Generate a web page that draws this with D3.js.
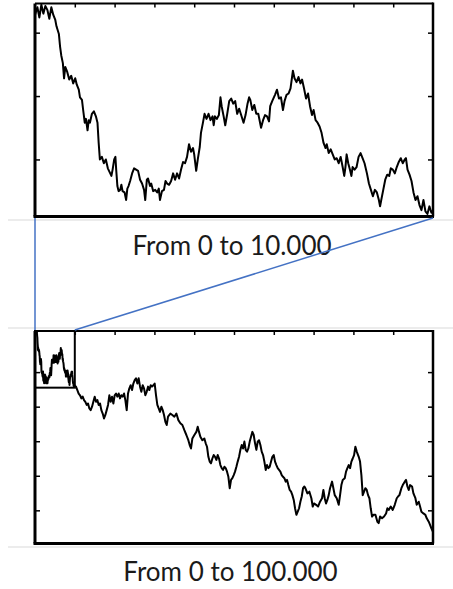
<!DOCTYPE html>
<html>
<head>
<meta charset="utf-8">
<script src="https://cdn.jsdelivr.net/npm/d3@7"></script>
<style>
body { margin: 0; background: #fff; }
</style>
</head>
<body>
<div id="container"></div>
<script>
// random walk, first 10.000 steps  [step, position]
var firstWalk = [
	[0,14],[60,20],[110,12],[160,22],[210,15],[260,21],[310,18],[360,11],[410,20],[460,14],
	[510,10],[540,5],[600,-1],[630,-11],[660,-18],[700,-24],[730,-36],[760,-27],[810,-31],[860,-37],
	[910,-34],[960,-40],[1010,-36],[1050,-41],[1100,-45],[1130,-51],[1180,-53],[1210,-61],[1250,-71],[1280,-68],
	[1320,-77],[1350,-69],[1380,-71],[1430,-64],[1480,-62],[1530,-66],[1570,-71],[1600,-87],[1630,-100],[1680,-98],
	[1730,-103],[1780,-100],[1830,-107],[1890,-111],[1920,-113],[1950,-108],[1990,-100],[2020,-98],[2040,-108],[2070,-121],
	[2100,-125],[2140,-124],[2170,-120],[2200,-125],[2250,-126],[2290,-132],[2320,-123],[2350,-121],[2390,-117],[2440,-111],
	[2490,-107],[2540,-108],[2590,-109],[2640,-116],[2690,-119],[2740,-124],[2770,-132],[2810,-116],[2840,-115],[2890,-121],
	[2920,-119],[2970,-125],[3020,-124],[3070,-126],[3110,-123],[3140,-132],[3190,-125],[3240,-124],[3280,-117],[3320,-119],
	[3370,-120],[3420,-117],[3470,-111],[3520,-116],[3570,-111],[3620,-115],[3670,-108],[3720,-102],[3770,-103],[3820,-98],
	[3870,-88],[3920,-94],[3970,-91],[4000,-96],[4050,-109],[4090,-100],[4140,-90],[4170,-79],[4220,-71],[4260,-64],
	[4310,-68],[4360,-64],[4410,-69],[4460,-66],[4490,-73],[4520,-66],[4570,-68],[4620,-65],[4660,-51],[4690,-58],
	[4740,-66],[4780,-73],[4830,-64],[4880,-54],[4930,-52],[4980,-56],[5030,-54],[5080,-64],[5130,-60],[5180,-65],
	[5240,-71],[5290,-65],[5340,-56],[5380,-51],[5410,-53],[5460,-61],[5510,-57],[5560,-64],[5610,-64],[5680,-75],
	[5730,-69],[5780,-65],[5830,-66],[5880,-70],[5910,-58],[5960,-54],[6030,-49],[6080,-45],[6130,-52],[6180,-51],
	[6230,-61],[6270,-54],[6320,-49],[6370,-48],[6420,-44],[6450,-37],[6480,-30],[6520,-36],[6570,-39],[6620,-35],
	[6670,-40],[6710,-37],[6760,-44],[6810,-52],[6860,-48],[6910,-58],[6960,-65],[7000,-61],[7050,-69],[7100,-71],
	[7150,-74],[7200,-79],[7250,-87],[7300,-91],[7330,-88],[7380,-95],[7430,-92],[7480,-96],[7530,-100],[7580,-99],
	[7630,-103],[7680,-98],[7730,-106],[7770,-113],[7800,-106],[7830,-96],[7870,-103],[7920,-109],[7950,-113],[7980,-106],
	[8030,-108],[8080,-106],[8130,-98],[8180,-95],[8230,-99],[8280,-103],[8340,-111],[8390,-119],[8440,-124],[8490,-129],
	[8540,-124],[8590,-126],[8640,-132],[8670,-137],[8700,-132],[8750,-124],[8800,-116],[8850,-112],[8900,-113],[8940,-107],
	[8990,-108],[9040,-111],[9090,-106],[9140,-102],[9190,-99],[9240,-103],[9290,-100],[9320,-99],[9360,-108],[9410,-112],
	[9460,-117],[9510,-126],[9560,-132],[9610,-129],[9660,-136],[9710,-140],[9760,-132],[9810,-141],[9860,-143],[9910,-137],
	[9960,-142],[10000,-140]
];

// same walk continued up to 100.000 steps
var restWalk = [
	[10300,-142],[10640,-152],[10970,-162],[11310,-167],[11650,-176],[11980,-171],[12320,-181],[12650,-186],[12990,-195],[13320,-191],
	[13660,-205],[13990,-210],[14330,-200],[14660,-186],[15000,-171],[15330,-186],[15670,-181],[16000,-195],[16340,-191],[16670,-210],
	[17010,-220],[17340,-234],[17680,-224],[18010,-210],[18350,-195],[18680,-167],[19020,-186],[19350,-171],[19690,-191],[20020,-167],
	[20360,-162],[20690,-171],[21030,-162],[21360,-176],[21700,-167],[22030,-171],[22370,-162],[22700,-181],[23040,-210],[23370,-162],
	[23710,-147],[24040,-138],[24380,-152],[24710,-133],[25050,-123],[25380,-118],[25720,-133],[26050,-118],[26390,-142],[26720,-157],
	[27060,-138],[27390,-147],[27730,-167],[28060,-157],[28400,-142],[28730,-152],[29070,-138],[29400,-142],[29740,-138],[30070,-133],
	[30410,-167],[30740,-195],[31080,-205],[31410,-215],[31750,-200],[32090,-210],[32420,-224],[32760,-244],[33090,-253],[33430,-229],
	[33760,-224],[34010,-220],[34510,-224],[35020,-229],[35520,-220],[36020,-239],[36520,-248],[37030,-253],[37530,-268],[38030,-282],
	[38530,-297],[38870,-311],[39200,-321],[39540,-292],[40040,-282],[40540,-273],[40880,-258],[41210,-273],[41550,-287],[42050,-297],
	[42550,-292],[42890,-306],[43220,-316],[43560,-345],[43890,-359],[44230,-364],[44560,-350],[44900,-340],[45240,-345],[45570,-354],
	[45910,-340],[46240,-350],[46580,-369],[46910,-378],[47250,-383],[47580,-374],[47920,-378],[48250,-388],[48590,-403],[48920,-436],
	[49260,-412],[49590,-407],[49930,-398],[50260,-388],[50600,-374],[50930,-359],[51270,-345],[51600,-325],[51940,-311],[52270,-321],
	[52610,-301],[52940,-325],[53280,-330],[53610,-321],[53950,-301],[54280,-287],[54620,-273],[54950,-282],[55290,-306],[55620,-325],
	[55960,-301],[56290,-297],[56630,-311],[56960,-330],[57300,-340],[57630,-359],[57970,-383],[58300,-369],[58640,-378],[58970,-374],
	[59310,-359],[59640,-345],[59980,-340],[60310,-359],[60650,-369],[60980,-378],[61320,-383],[61650,-388],[61990,-398],[62320,-403],
	[62660,-407],[62990,-417],[63330,-412],[63660,-427],[64000,-441],[64340,-446],[64670,-456],[65010,-470],[65340,-494],[65680,-513],
	[66010,-504],[66350,-494],[66680,-475],[67020,-460],[67350,-436],[67690,-431],[67930,-436],[68440,-451],[68940,-446],[69440,-465],
	[69780,-489],[70110,-480],[70620,-484],[71120,-489],[71620,-475],[72120,-465],[72460,-441],[72790,-465],[73130,-480],[73460,-470],
	[73800,-456],[74130,-436],[74640,-417],[74970,-436],[75310,-456],[75810,-465],[76310,-484],[76650,-456],[76980,-427],[77320,-412],
	[77820,-407],[78150,-388],[78490,-378],[78820,-369],[79160,-378],[79500,-359],[79830,-350],[80170,-340],[80500,-316],[80840,-330],
	[81340,-345],[81670,-359],[82010,-398],[82340,-456],[82680,-446],[83010,-436],[83350,-441],[83680,-456],[84020,-465],[84350,-494],
	[84690,-518],[85020,-513],[85530,-513],[86030,-533],[86360,-537],[86700,-518],[87200,-523],[87700,-518],[88210,-509],[88540,-494],
	[88880,-499],[89380,-489],[89880,-499],[90390,-484],[90890,-465],[91220,-460],[91560,-456],[92060,-436],[92400,-427],[92900,-417],
	[93230,-412],[93570,-431],[93900,-441],[94240,-427],[94740,-431],[95080,-451],[95580,-465],[95910,-484],[96420,-475],[96750,-489],
	[97090,-504],[97590,-509],[98090,-513],[98430,-523],[98930,-533],[99260,-542],[99600,-552],[100000,-562]
];

var topTicksX = d3.range(1000, 10000, 1000);
var topTicksY = [-100, -50, 0];
var bottomTicksX = d3.range(10000, 100000, 10000);
var bottomTicksY = [-500, -400, -300, -200, -100];
var captions = ["From 0 to 10.000", "From 0 to 100.000"];

var width = 453, height = 589;
var svg = d3.select("#container").append("svg")
	.attr("width", width)
	.attr("height", height)
	.style("font-family", "Lato, 'Open Sans', sans-serif");

var xTop = d3.scaleLinear().domain([0, 10000]).range([35, 433]);
var yTop = d3.scaleLinear().domain([-145, 23]).range([216.5, 3.5]);
var xBot = d3.scaleLinear().domain([0, 100000]).range([35, 433]);
var yBot = d3.scaleLinear().domain([-596, 19]).range([543.5, 331]);

// light grey guide lines
svg.selectAll(".guide")
	.data([220, 328, 547])
	.enter().append("line")
	.attr("class", "guide")
	.attr("x1", 8).attr("x2", width)
	.attr("y1", d => d).attr("y2", d => d)
	.attr("stroke", "#d9d9d9")
	.attr("stroke-width", 1);

function drawPanel( id, x, y, data, ticksX, ticksY )
{
	var g = svg.append("g").attr("class", "panel " + id);
	var x0 = x.range()[0], x1 = x.range()[1];
	var y0 = y.range()[1], y1 = y.range()[0];

	g.append("clipPath").attr("id", "clip-" + id)
		.append("rect")
		.attr("x", x0).attr("y", y0)
		.attr("width", x1 - x0).attr("height", y1 - y0);

	var line = d3.line()
		.x(d => x(d[0]))
		.y(d => y(d[1]));

	g.append("path")
		.attr("d", line(data))
		.attr("clip-path", "url(#clip-" + id + ")")
		.attr("fill", "none")
		.attr("stroke", "#000")
		.attr("stroke-width", 2)
		.attr("stroke-linejoin", "round");

	// inward ticks
	g.append("g")
		.attr("transform", "translate(0," + y0 + ")")
		.call(d3.axisTop(x).tickValues(ticksX).tickSize(-4).tickFormat(""));
	g.append("g")
		.attr("transform", "translate(" + x0 + ",0)")
		.call(d3.axisLeft(y).tickValues(ticksY).tickSize(-5).tickFormat(""));
	g.append("g")
		.attr("transform", "translate(" + x1 + ",0)")
		.call(d3.axisRight(y).tickValues(ticksY).tickSize(-5).tickFormat(""));
	g.selectAll(".domain").remove();
	g.selectAll(".tick line").attr("stroke", "#000").attr("stroke-width", 1.5);

	// frame
	var sides = [
		{x1: x0, y1: y0, x2: x0, y2: y1, w: 3},
		{x1: x0 - 1.5, y1: y1, x2: x1 + 1, y2: y1, w: 3},
		{x1: x0, y1: y0, x2: x1, y2: y0, w: 2},
		{x1: x1, y1: y0 - 1, x2: x1, y2: y1, w: 2.5}
	];
	g.selectAll(".side")
		.data(sides)
		.enter().append("line")
		.attr("x1", d => d.x1).attr("y1", d => d.y1)
		.attr("x2", d => d.x2).attr("y2", d => d.y2)
		.attr("stroke", "#000")
		.attr("stroke-width", d => d.w);
	return g;
}

drawPanel("top", xTop, yTop, firstWalk, topTicksX, topTicksY);
var bottom = drawPanel("bottom", xBot, yBot, firstWalk.concat(restWalk), bottomTicksX, bottomTicksY);

// box marking the first 10.000 steps inside the long walk
var boxTop = yBot(yTop.domain()[1]) < yBot.range()[1] ? yBot.range()[1] : yBot(yTop.domain()[1]);
bottom.append("rect")
	.attr("x", xBot(0))
	.attr("y", boxTop)
	.attr("width", xBot(10000) - xBot(0))
	.attr("height", yBot(yTop.domain()[0]) - boxTop)
	.attr("fill", "none")
	.attr("stroke", "#000")
	.attr("stroke-width", 2);

// captions
svg.selectAll(".caption")
	.data(captions)
	.enter().append("text")
	.attr("class", "caption")
	.attr("x", (d, i) => i == 0 ? 232 : 230.5)
	.attr("y", (d, i) => i == 0 ? 255 : 581)
	.attr("text-anchor", "middle")
	.attr("font-size", 26)
	.attr("fill", "#1a1a1a")
	.text(d => d);

// connector lines from the top panel to the box
var connectors = [
	[[xTop(0), yTop.range()[0]], [xBot(0), boxTop]],
	[[xTop(10000), yTop.range()[0]], [xBot(10000), boxTop]]
];
svg.selectAll(".connector")
	.data(connectors)
	.enter().append("line")
	.attr("class", "connector")
	.attr("x1", d => d[0][0]).attr("y1", d => d[0][1] + 1.5)
	.attr("x2", d => d[1][0]).attr("y2", d => d[1][1] - 1)
	.attr("stroke", "#4472c4")
	.attr("stroke-width", 1.5);
</script>
</body>
</html>
